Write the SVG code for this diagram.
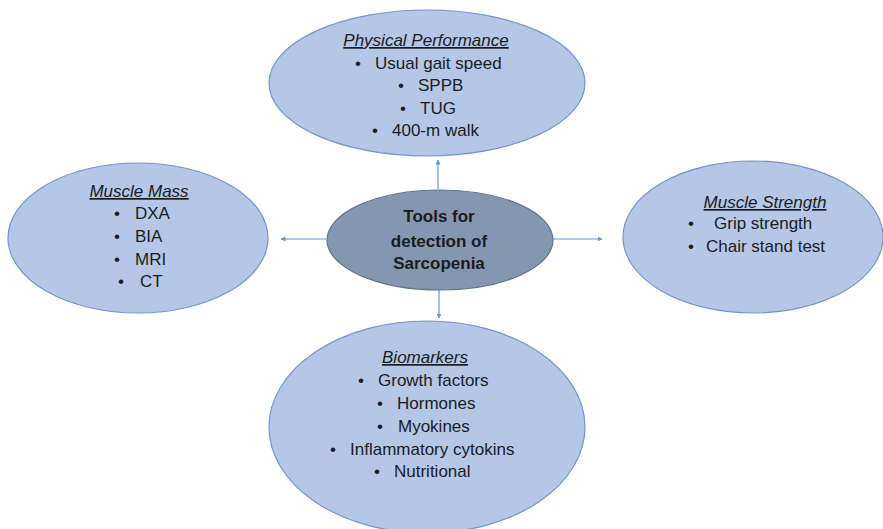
<svg xmlns="http://www.w3.org/2000/svg" width="883" height="529" viewBox="0 0 883 529">
  <style>
    .oval { fill: #b4c7e7; stroke: #7296cc; stroke-width: 1.2; }
    .hub { fill: #8497b0; stroke: #5f7493; stroke-width: 1.2; }
    text { font-family: "Liberation Sans", Arial, sans-serif; font-size: 17px; fill: #1c1c1c; }
    .title { font-style: italic; text-decoration: underline; text-anchor: middle; }
    .hubtxt { font-weight: bold; text-anchor: middle; }
    .conn { stroke: #5b9bd5; stroke-width: 1.2; fill: none; marker-end: url(#arrow); }
  </style>
  <defs>
    <marker id="arrow" viewBox="0 0 10 10" refX="9" refY="5" markerWidth="5" markerHeight="5" orient="auto" markerUnits="userSpaceOnUse">
      <path d="M0,0 L10,5 L0,10 z" fill="#5b9bd5"/>
    </marker>
  </defs>
  <rect width="883" height="529" fill="#ffffff"/>

  <g id="connectors">
    <line class="conn" x1="438" y1="189" x2="438" y2="160"/>
    <line class="conn" x1="326" y1="239" x2="281" y2="239"/>
    <line class="conn" x1="553" y1="239" x2="602" y2="239"/>
    <line class="conn" x1="439" y1="290" x2="439" y2="318"/>
  </g>

  <g id="physical-performance">
    <ellipse class="oval" cx="427" cy="83" rx="158" ry="73"/>
    <text class="title" x="426" y="46">Physical Performance</text>
    <text x="355" y="69">•</text><text x="375" y="69">Usual gait speed</text>
    <text x="398" y="91">•</text><text x="418" y="91">SPPB</text>
    <text x="400" y="114">•</text><text x="420" y="114">TUG</text>
    <text x="372" y="136">•</text><text x="392" y="136">400-m walk</text>
  </g>

  <g id="hub">
    <ellipse class="hub" cx="440" cy="240" rx="113" ry="50"/>
    <text class="hubtxt" x="439" y="222">Tools for</text>
    <text class="hubtxt" x="439" y="247">detection of</text>
    <text class="hubtxt" x="439" y="269">Sarcopenia</text>
  </g>

  <g id="muscle-mass">
    <ellipse class="oval" cx="138" cy="238" rx="130" ry="75"/>
    <text class="title" x="139" y="197">Muscle Mass</text>
    <text x="114" y="219">•</text><text x="135" y="219">DXA</text>
    <text x="114" y="242">•</text><text x="135" y="242">BIA</text>
    <text x="114" y="265">•</text><text x="135" y="265">MRI</text>
    <text x="118" y="287">•</text><text x="140" y="287">CT</text>
  </g>

  <g id="muscle-strength">
    <ellipse class="oval" cx="753" cy="237" rx="130" ry="76"/>
    <text class="title" x="765" y="208">Muscle Strength</text>
    <text x="688" y="229">•</text><text x="714" y="229">Grip strength</text>
    <text x="688" y="252">•</text><text x="706" y="252">Chair stand test</text>
  </g>

  <g id="biomarkers">
    <ellipse class="oval" cx="427" cy="427" rx="158" ry="106"/>
    <text class="title" x="425" y="363">Biomarkers</text>
    <text x="358" y="386">•</text><text x="378" y="386">Growth factors</text>
    <text x="377" y="409">•</text><text x="397" y="409">Hormones</text>
    <text x="377" y="432">•</text><text x="398" y="432">Myokines</text>
    <text x="330" y="455">•</text><text x="350" y="455">Inflammatory cytokins</text>
    <text x="374" y="477">•</text><text x="394" y="477">Nutritional</text>
  </g>
</svg>
